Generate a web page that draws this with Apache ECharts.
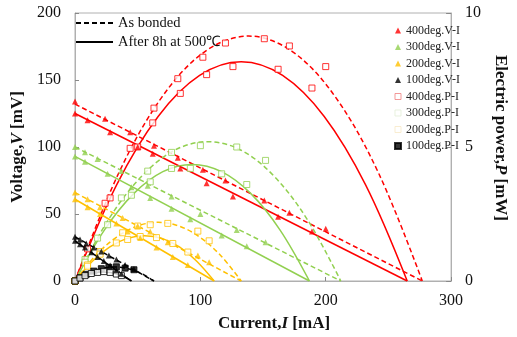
<!DOCTYPE html>
<html><head><meta charset="utf-8">
<script src="https://cdn.jsdelivr.net/npm/echarts@6/dist/echarts.min.js"></script>
<style>html,body{margin:0;padding:0;background:#fff}#c{width:517px;height:337px}</style>
</head><body><div id="c"></div>
<script>
// ---- measured points (read from picture) ----
// 400 deg
const I_400_bonded = [0, 24, 44, 63, 82, 102, 120, 151, 171, 200];
const V_400_bonded = [134, 121, 111, 101, 92, 83, 75, 60, 51, 39];
const P_400_bonded = [0, 2.9, 4.95, 6.45, 7.55, 8.35, 8.88, 9.04, 8.77, 8.0];
const I_400_after = [0, 10, 28, 50, 62, 84, 105, 126, 162, 189];
const V_400_after = [125, 120, 111, 100, 95, 84, 73, 63, 48, 37];
const P_400_after = [0, 1.2, 3.1, 5.0, 5.9, 7.0, 7.7, 8.0, 7.9, 7.2];
// 300 deg
const I_300_bonded = [0, 8, 18, 37, 58, 77, 100, 129, 152];
const V_300_bonded = [100, 96, 91, 82, 71, 63, 50, 38, 29];
const P_300_bonded = [0, 0.8, 1.6, 3.1, 4.1, 4.8, 5.05, 5.0, 4.5];
const I_300_after = [0, 8, 26, 45, 60, 77, 92, 117, 137];
const V_300_after = [93, 89, 80, 70, 62, 54, 46, 34, 26];
const P_300_after = [0, 0.7, 2.1, 3.2, 3.7, 4.2, 4.2, 4.0, 3.6];
// 200 deg
const I_200_bonded = [0, 10, 20, 38, 50, 60, 74, 98, 107];
const V_200_bonded = [66, 61, 55, 47, 41, 37, 29, 19, 14];
const P_200_bonded = [0, 0.6, 1.1, 1.8, 2.05, 2.1, 2.15, 1.86, 1.5];
const I_200_after = [0, 10, 20, 33, 42, 52, 65, 78, 90];
const V_200_after = [61, 55, 50, 43, 37, 32, 25, 18, 12];
const P_200_after = [0, 0.55, 1.0, 1.42, 1.55, 1.66, 1.62, 1.4, 1.08];
// 100 deg
const I_100_bonded = [0, 4, 9, 15, 21, 27, 33, 40, 47];
const V_100_bonded = [33, 31, 28, 25, 22, 19, 16, 12, 9];
const P_100_bonded = [0, 0.12, 0.25, 0.37, 0.46, 0.51, 0.53, 0.48, 0.42];
const I_100_after = [0, 4, 8, 13, 18, 23, 28, 33, 37];
const V_100_after = [30, 27.5, 25, 21.5, 18, 15, 11.5, 8, 5.5];
const P_100_after = [0, 0.11, 0.2, 0.28, 0.32, 0.35, 0.32, 0.26, 0.2];

// ---- trend lines ----
const fitVI_400_bonded = [0, 277], fitV_400_bonded = [132, 0];
const fitVI_400_after = [0, 265], fitV_400_after = [125, 0];
const fitVI_300_bonded = [0, 212], fitV_300_bonded = [100, 0];
const fitVI_300_after = [0, 187], fitV_300_after = [93, 0];
const fitVI_200_bonded = [0, 132.6], fitV_200_bonded = [66, 0];
const fitVI_200_after = [0, 111], fitV_200_after = [61, 0];
const fitVI_100_bonded = [0, 63], fitV_100_bonded = [33, 0];
const fitVI_100_after = [0, 45], fitV_100_after = [30, 0];

const fitPI_400_bonded = [0, 34.6, 69.3, 103.9, 138.5, 173.1, 207.8, 242.4, 277];
const fitP_400_bonded = [0, 4.0, 6.86, 8.57, 9.14, 8.57, 6.86, 4.0, 0];
const fitPI_400_after = [0, 33.1, 66.3, 99.4, 132.5, 165.6, 198.8, 231.9, 265];
const fitP_400_after = [0, 3.58, 6.14, 7.67, 8.18, 7.67, 6.14, 3.58, 0];
const fitPI_300_bonded = [0, 26.5, 53, 79.5, 106, 132.5, 159, 185.5, 212];
const fitP_300_bonded = [0, 2.28, 3.9, 4.88, 5.2, 4.88, 3.9, 2.28, 0];
const fitPI_300_after = [0, 23.4, 46.8, 70.1, 93.5, 116.9, 140.3, 163.6, 187];
const fitP_300_after = [0, 1.9, 3.26, 4.08, 4.35, 4.08, 3.26, 1.9, 0];
const fitPI_200_bonded = [0, 16.6, 33.2, 49.7, 66.3, 82.9, 99.5, 116, 132.6];
const fitP_200_bonded = [0, 0.96, 1.64, 2.05, 2.19, 2.05, 1.64, 0.96, 0];
const fitPI_200_after = [0, 13.9, 27.8, 41.6, 55.5, 69.4, 83.3, 97.1, 111];
const fitP_200_after = [0, 0.74, 1.27, 1.59, 1.69, 1.59, 1.27, 0.74, 0];
const fitPI_100_bonded = [0, 7.9, 15.8, 23.6, 31.5, 39.4, 47.3, 55.1, 63];
const fitP_100_bonded = [0, 0.227, 0.39, 0.487, 0.52, 0.487, 0.39, 0.227, 0];
const fitPI_100_after = [0, 5.6, 11.3, 16.9, 22.5, 28.1, 33.8, 39.4, 45];
const fitP_100_after = [0, 0.148, 0.253, 0.316, 0.338, 0.316, 0.253, 0.148, 0];

const temps = ['400', '300', '200', '100'];
const colors = {'400': '#FF0000', '300': '#92D050', '200': '#FFC000', '100': '#000000'};
const xTicks = [0, 100, 200, 300];

const D = {
  '400': {b: [I_400_bonded, V_400_bonded, P_400_bonded, fitVI_400_bonded, fitV_400_bonded, fitPI_400_bonded, fitP_400_bonded],
          a: [I_400_after, V_400_after, P_400_after, fitVI_400_after, fitV_400_after, fitPI_400_after, fitP_400_after]},
  '300': {b: [I_300_bonded, V_300_bonded, P_300_bonded, fitVI_300_bonded, fitV_300_bonded, fitPI_300_bonded, fitP_300_bonded],
          a: [I_300_after, V_300_after, P_300_after, fitVI_300_after, fitV_300_after, fitPI_300_after, fitP_300_after]},
  '200': {b: [I_200_bonded, V_200_bonded, P_200_bonded, fitVI_200_bonded, fitV_200_bonded, fitPI_200_bonded, fitP_200_bonded],
          a: [I_200_after, V_200_after, P_200_after, fitVI_200_after, fitV_200_after, fitPI_200_after, fitP_200_after]},
  '100': {b: [I_100_bonded, V_100_bonded, P_100_bonded, fitVI_100_bonded, fitV_100_bonded, fitPI_100_bonded, fitP_100_bonded],
          a: [I_100_after, V_100_after, P_100_after, fitVI_100_after, fitV_100_after, fitPI_100_after, fitP_100_after]}
};

const zip = (xs, ys) => xs.map((x, i) => [x, ys[i]]);
const FONT = 'Liberation Serif';
const series = [];

// legend-only series for the line styles
series.push({name: 'As bonded', type: 'line', data: [], symbol: 'none', lineStyle: {color: '#000', width: 1.5, type: [5, 3]}, itemStyle: {color: '#000'}});
series.push({name: 'After 8h at 500℃', type: 'line', data: [], symbol: 'none', lineStyle: {color: '#000', width: 1.5}, itemStyle: {color: '#000'}});

temps.forEach(t => {
  const c = colors[t];
  ['b', 'a'].forEach(s => {
    const [I, V, P, fI, fV, fPI, fP] = D[t][s];
    const lt = s === 'b' ? [5, 3] : 'solid';
    series.push({type: 'line', yAxisIndex: 0, data: zip(fI, fV), symbol: 'none', silent: true,
      lineStyle: {color: c, width: 1.5, type: lt}, z: 2});
    series.push({type: 'line', yAxisIndex: 1, data: zip(fPI, fP), symbol: 'none', smooth: 0.35, silent: true,
      lineStyle: {color: c, width: 1.5, type: lt}, z: 2});
  });
});
temps.forEach(t => {
  const c = colors[t];
  ['b', 'a'].forEach(s => {
    const [I, V, P] = D[t][s];
    series.push({name: t + 'deg.V-I', type: 'scatter', yAxisIndex: 0, data: zip(I, V),
      symbol: 'triangle', symbolSize: 6, itemStyle: {color: c}, z: 4, clip: false});
  });
});
temps.forEach(t => {
  const c = colors[t];
  ['b', 'a'].forEach(s => {
    const [I, V, P] = D[t][s];
    const filled = (t === '100' && s === 'b');
    series.push({name: t + 'deg.P-I', type: 'scatter', yAxisIndex: 1, data: zip(I, P),
      symbol: 'rect', symbolSize: 6,
      itemStyle: {color: filled ? c : '#fff', borderColor: c, borderWidth: 1}, z: 3, clip: false});
  });
});

const rich = {i: {fontFamily: FONT, fontSize: 17, fontWeight: 'bold', fontStyle: 'italic', color: '#111'}};
const nameStyle = {fontFamily: FONT, fontSize: 17, fontWeight: 'bold', color: '#111', rich: rich};
const axisLbl = {fontFamily: FONT, fontSize: 16, color: '#111'};

const option = {
  animation: false,
  backgroundColor: '#fff',
  grid: {left: 75, right: 51, top: 13, bottom: 49, show: true, borderColor: '#b0b0b0', borderWidth: 1},
  legend: [
    {data: [{name: 'As bonded', itemStyle: {opacity: 0}}, {name: 'After 8h at 500℃', itemStyle: {opacity: 0}}],
      orient: 'vertical', left: 75, top: 15, padding: 0, itemWidth: 37, itemHeight: 10,
      itemGap: 3, textStyle: {fontFamily: FONT, fontSize: 14.5, color: '#111', lineHeight: 16}, selectedMode: false},
    {data: [
        {name: '400deg.V-I'}, {name: '300deg.V-I'}, {name: '200deg.V-I'}, {name: '100deg.V-I'},
        {name: '400deg.P-I', itemStyle: {color: '#fff', borderColor: '#f08080', borderWidth: 1}},
        {name: '300deg.P-I', itemStyle: {color: '#fff', borderColor: '#e2eed6', borderWidth: 1}},
        {name: '200deg.P-I', itemStyle: {color: '#fff', borderColor: '#f7e9c6', borderWidth: 1}},
        {name: '100deg.P-I', itemStyle: {color: '#000', borderColor: '#000'}}],
      orient: 'vertical', left: 394, top: 24, padding: 0, itemWidth: 6, itemHeight: 6, itemGap: 3.5,
      textStyle: {fontFamily: FONT, fontSize: 12, color: '#222', lineHeight: 13}, selectedMode: false}
  ],
  xAxis: {type: 'value', min: xTicks[0], max: xTicks[xTicks.length - 1], interval: 100,
    name: 'Current,{i|I} [mA]', nameLocation: 'middle', nameGap: 34,
    nameTextStyle: Object.assign({}, nameStyle, {padding: [0, 0, 0, 22]}),
    axisLine: {lineStyle: {color: '#b0b0b0'}}, axisTick: {inside: true, length: 4, lineStyle: {color: '#888'}},
    axisLabel: Object.assign({margin: 12}, axisLbl), splitLine: {show: false}},
  yAxis: [
    {type: 'value', min: 0, max: 200, interval: 50,
      name: 'Voltage,{i|V} [mV]', nameLocation: 'middle', nameGap: 42, nameRotate: 90, nameTextStyle: nameStyle,
      axisLine: {show: true, lineStyle: {color: '#b0b0b0'}}, axisTick: {show: true, inside: true, length: 4, lineStyle: {color: '#888'}},
      axisLabel: Object.assign({margin: 14}, axisLbl), splitLine: {show: false}},
    {type: 'value', min: 0, max: 10, interval: 5, position: 'right',
      name: 'Electric power,{i|P} [mW]', nameLocation: 'middle', nameGap: 30, nameRotate: -90,
      nameTextStyle: Object.assign({}, nameStyle, {padding: [0, 18, 0, 0]}),
      axisLine: {show: true, lineStyle: {color: '#b0b0b0'}}, axisTick: {show: true, inside: true, length: 5, lineStyle: {color: '#888'}},
      axisLabel: Object.assign({margin: 14}, axisLbl), splitLine: {show: false}}
  ],
  series: series
};
const chart = echarts.init(document.getElementById('c'), null, {renderer: 'canvas'});
chart.setOption(option);
</script></body></html>
